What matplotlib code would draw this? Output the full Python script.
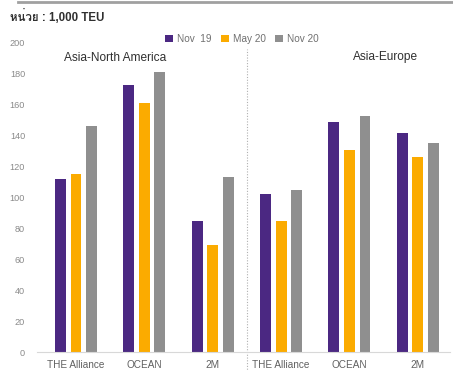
import matplotlib
matplotlib.use("Agg")
import matplotlib.pyplot as plt
from matplotlib.lines import Line2D
from matplotlib import font_manager
from matplotlib.ft2font import FT2Font
import numpy as np

categories = ["THE Alliance", "OCEAN", "2M", "THE Alliance", "OCEAN", "2M"]
series_names = ["Nov  19", "May 20", "Nov 20"]
nov19 = [112, 173, 85, 102, 149, 142]
may20 = [115, 161, 69, 85, 131, 126]
nov20 = [146, 181, 113, 105, 153, 135]
region_labels = ["Asia-North America", "Asia-Europe"]
yticks = [0, 20, 40, 60, 80, 100, 120, 140, 160, 180, 200]
title = "หน่วย : 1,000 TEU"

# find an installed family with Thai glyphs
thai_fams = []
for fe in font_manager.fontManager.ttflist:
    try:
        cm = FT2Font(fe.fname).get_charmap()
        if ord("น") in cm and ord("ว") in cm and fe.name not in thai_fams:
            thai_fams.append(fe.name)
    except Exception:
        pass

plt.rcParams['font.family'] = ['Liberation Sans', 'DejaVu Sans'] + thai_fams

colors = ["#4b2882", "#fbab00", "#8f8f8f"]

fig = plt.figure(figsize=(4.53, 3.71), dpi=100)
ax = fig.add_axes([37/453, 1-352/371, 413/453, 309/371])

x = np.arange(len(categories))
w = 0.16
off = 0.227
for i, (vals, c, name) in enumerate(zip([nov19, may20, nov20], colors, series_names)):
    ax.bar(x + (i-1)*off, vals, width=w, color=c, label=name, zorder=2)

ax.set_xlim(-0.57, 5.47)
ax.set_ylim(0, 200)
ax.set_yticks(yticks)
ax.set_yticklabels([str(v) for v in yticks], fontsize=6.6, color="#8a8a8a")
ax.set_xticks(x)
ax.set_xticklabels(categories, fontsize=7.2, color="#606060", va="top")
ax.tick_params(axis='y', length=0, pad=8.5)
ax.tick_params(axis='x', length=0, pad=5.5)
for s in ["top", "right", "left"]:
    ax.spines[s].set_visible(False)
ax.spines["bottom"].set_color("#d8d8d8")
ax.spines["bottom"].set_linewidth(0.8)

# divider
ax.plot([2.5, 2.5], [-14, 196], ls=(0, (1, 1.5)), color="#b0b0b0", lw=0.8, clip_on=False, zorder=1)

ax.text(0.57, 190, region_labels[0], fontsize=8.6, color="#303030", ha="center", va="center")
ax.text(4.52, 191, region_labels[1], fontsize=8.6, color="#303030", ha="center", va="center")

leg = ax.legend(loc="center", bbox_to_anchor=((242-37)/413, 1 + (43-39)/309), bbox_transform=ax.transAxes,
                ncol=3, frameon=False, fontsize=7.2, handlelength=0.8, handleheight=0.8,
                handletextpad=0.4, columnspacing=0.9, borderaxespad=0)
for t in leg.get_texts():
    t.set_color("#707070")

fig.text(10/453, 1-16/371, title, fontsize=8.3, color="#303030", ha="left", va="center", fontweight="bold")
fig.add_artist(Line2D([18/453, 1], [1-2/371, 1-2/371], color="#a0a0a0", lw=2))

fig.savefig("out.png", dpi=100)
